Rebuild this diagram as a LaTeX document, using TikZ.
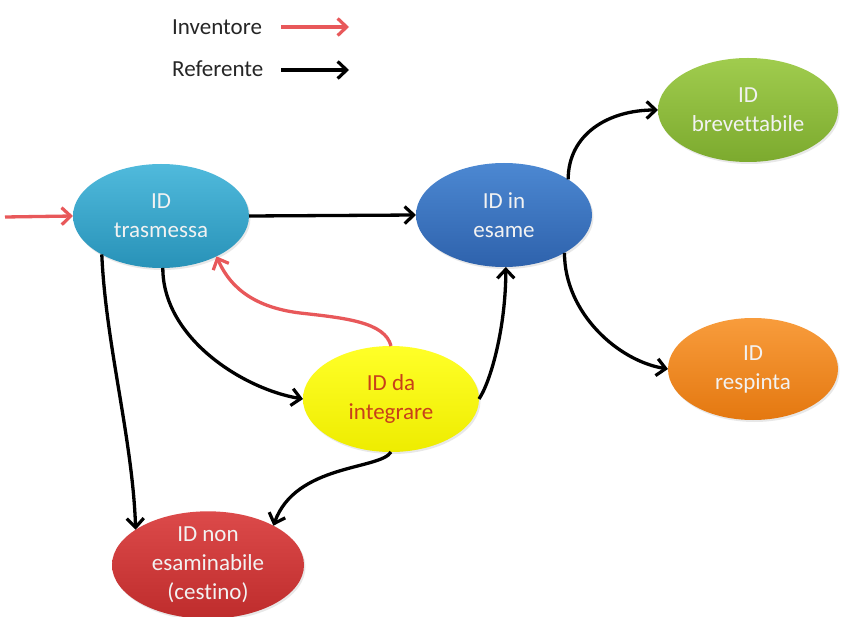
\documentclass[tikz,border=0pt]{standalone}
\usepackage{fontspec}
\setmainfont{Carlito}[Ligatures=CommonOff]
\usetikzlibrary{shapes.geometric,arrows.meta,shadows}
\definecolor{redarrow}{HTML}{E8585A}
\definecolor{lighttext}{HTML}{F2F2F2}
\definecolor{yeltext}{HTML}{C8401A}
\begin{document}
\begin{tikzpicture}[x=1pt,y=-1pt,
  state/.style={ellipse, inner sep=0pt, outer sep=0pt, align=center,
    font=\fontsize{23}{29}\selectfont, text=lighttext,
    drop shadow={opacity=0.18, shadow xshift=1.5pt, shadow yshift=-2pt}},
  tip/.style={-{Straight Barb[length=9pt,width=17pt,line width=3.2pt]}},
  ref/.style={draw=black, line width=3.3pt, tip},
  inv/.style={draw=redarrow, line width=3.3pt, tip},
  legtext/.style={anchor=west, inner sep=0pt, font=\fontsize{23}{28}\selectfont, text=black!85}]
\useasboundingbox (0,0) rectangle (850,617);
\fill[white] (0,0) rectangle (850,617);

% legend
\node[legtext] (linv) at (172,27) {Inventore};
\node[legtext] (lref) at (172,69) {Referente};
\coordinate (i1) at (281,27);
\coordinate (i2) at (349,27);
\coordinate (r1) at (281,70);
\coordinate (r2) at (349,70);
\draw[inv] (i1) -- (i2);
\draw[ref] (r1) -- (r2);

% states
\node[state, minimum width=176pt, minimum height=104pt,
  top color={rgb,255:red,80;green,186;blue,220}, bottom color={rgb,255:red,40;green,146;blue,184}]
  (tras) at (161,216) {ID\\trasmessa};
\node[state, minimum width=176pt, minimum height=104pt,
  top color={rgb,255:red,76;green,136;blue,210}, bottom color={rgb,255:red,46;green,98;blue,172}]
  (esame) at (504,215) {ID in\\esame};
\node[state, minimum width=180pt, minimum height=104pt,
  top color={rgb,255:red,160;green,204;blue,78}, bottom color={rgb,255:red,124;green,170;blue,46}]
  (brev) at (748,110) {ID\\brevettabile};
\node[state, minimum width=170pt, minimum height=102pt,
  top color={rgb,255:red,248;green,156;blue,60}, bottom color={rgb,255:red,228;green,120;blue,16}]
  (resp) at (753,369) {ID\\respinta};
\node[state, minimum width=176pt, minimum height=106pt, text=yeltext,
  top color={rgb,255:red,255;green,255;blue,40}, bottom color={rgb,255:red,238;green,236;blue,0}]
  (integ) at (391,399) {ID da\\integrare};
\node[state, minimum width=192pt, minimum height=104pt,
  top color={rgb,255:red,220;green,74;blue,74}, bottom color={rgb,255:red,190;green,44;blue,44}]
  (nonesam) at (208,565) {ID non\\esaminabile\\(cestino)};

% connectors
\coordinate (src) at (5,217);
\draw[inv] (src) -- (tras.west);
\draw[ref] (tras.east) -- (esame.west);
\draw[ref] (esame.29) .. controls +(0,-45) and +(-50,0) .. (brev.west);
\draw[ref] (esame.-32) .. controls +(0,60) and +(-50,-8) .. (resp.west);
\draw[ref] (tras.-88) .. controls +(0,70) and +(-60,-10) .. (integ.west);
\draw[ref] (tras.213) .. controls +(4,90) and +(-3,-90) .. (nonesam.154);
\draw[ref] (integ.east) .. controls +(12,-18) and +(0,60) .. (esame.-88);
\draw[ref] (integ.south) .. controls +(-11,18) and +(22,-62) .. (nonesam.31);
\draw[inv] (integ.north) .. controls (385,322) and (345,318) .. (300,313)
  .. controls (260,308) and (232,292) .. (tras.-36);
\end{tikzpicture}
\end{document}
